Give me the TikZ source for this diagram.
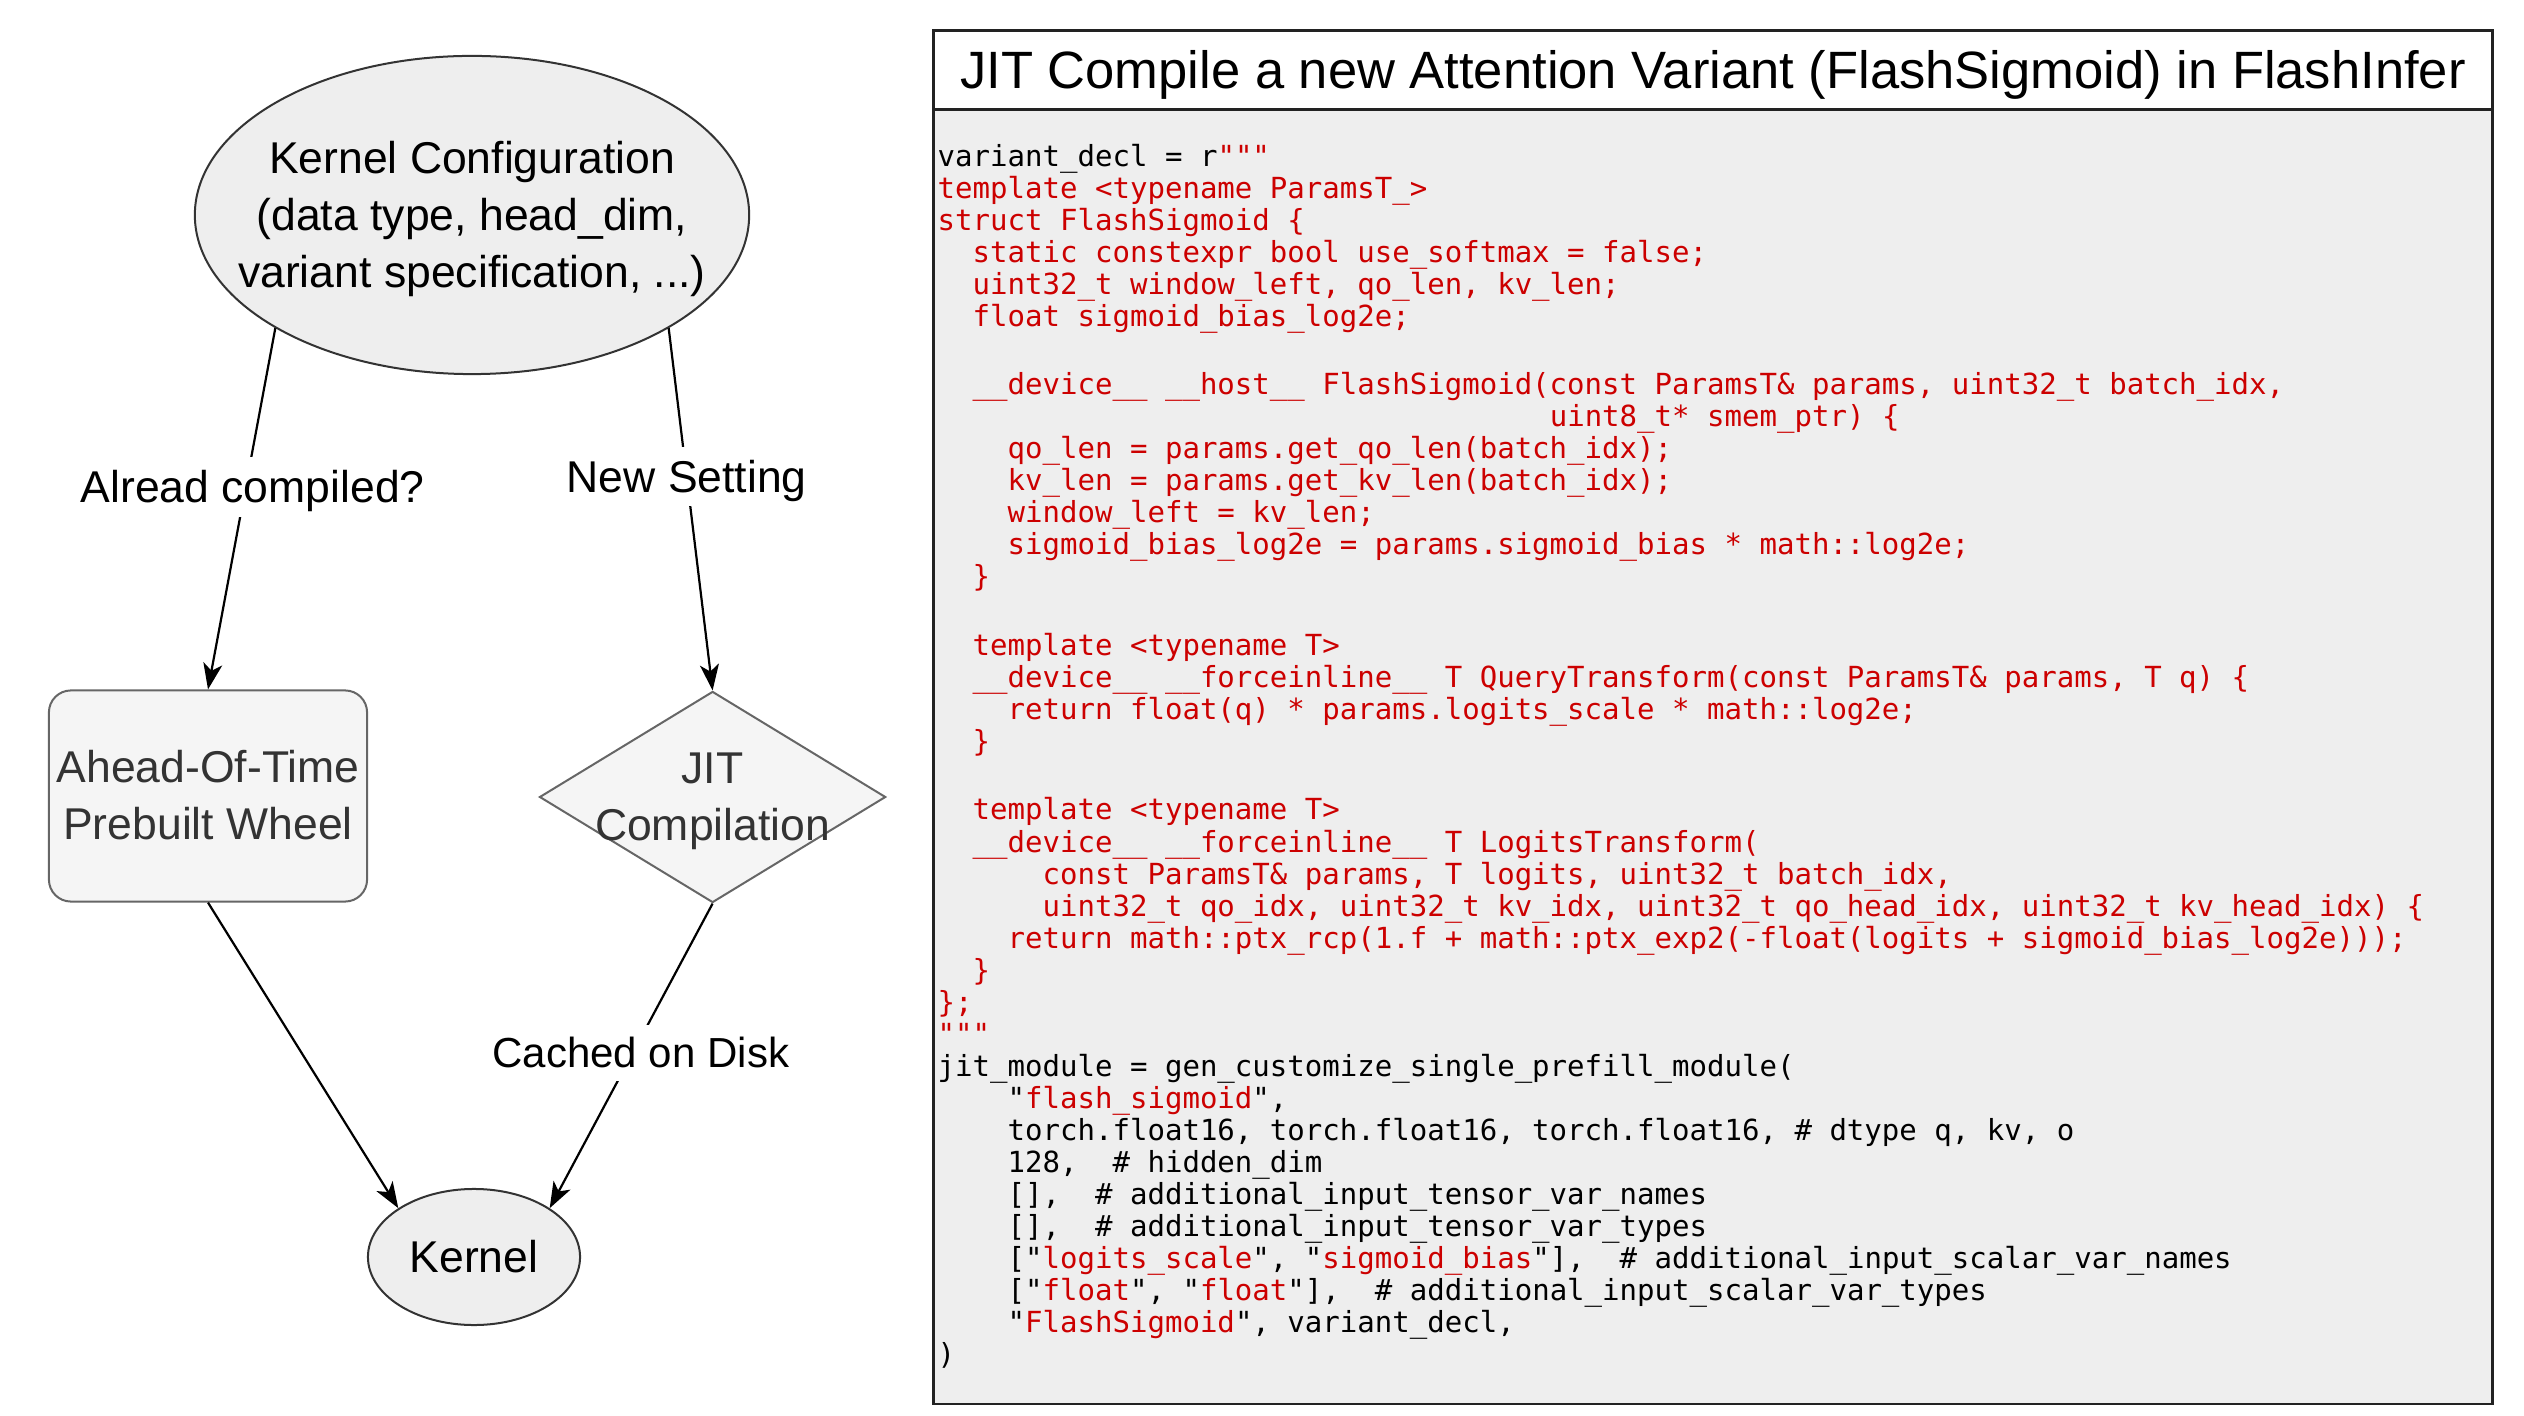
\documentclass[tikz,border=0pt]{standalone}
\usepackage{fontspec}
\setmainfont{Liberation Sans}
\setmonofont{DejaVu Sans Mono}
\usepackage{tikz}
\usetikzlibrary{shapes.geometric, arrows.meta, positioning}

\definecolor{cfgfill}{HTML}{EEEEEE}
\definecolor{cfgline}{HTML}{333333}
\definecolor{wheelfill}{HTML}{F5F5F5}
\definecolor{wheelline}{HTML}{666666}
\definecolor{wheeltext}{HTML}{333333}
\definecolor{codered}{HTML}{CC0000}
\definecolor{panelfill}{HTML}{EEEEEE}
\definecolor{panelline}{HTML}{222222}

\newcommand{\lstrut}{\rule[-0.2535em]{0pt}{1.2em}}
\newcommand{\rd}[1]{\textcolor{codered}{#1}}
\newcommand{\ind}[1]{\hspace*{#1\fontcharwd\font`\x\relax}}
\newcommand{\codefont}{\fontsize{0.2903cm}{0.32cm}\selectfont\ttfamily}
\newcommand{\lblfont}{\fontsize{0.445cm}{0.534cm}\selectfont}
\newcommand{\smalllbl}{\fontsize{0.42cm}{0.504cm}\selectfont}
\newcommand{\titlefont}{\fontsize{0.525cm}{0.63cm}\selectfont}

\tikzset{
    cfgnode/.style={
        ellipse,
        draw=cfgline,
        line width=0.02cm,
        fill=cfgfill,
        minimum width=5.54cm,
        minimum height=3.18cm,
        inner sep=0pt
    },
    wheel/.style={
        rectangle,
        rounded corners=0.22cm,
        draw=wheelline,
        line width=0.02cm,
        fill=wheelfill,
        text=wheeltext,
        minimum width=3.18cm,
        minimum height=2.11cm,
        inner sep=0pt,
        align=center,
        font=\lblfont
    },
    jitbox/.style={
        diamond,
        draw=wheelline,
        line width=0.02cm,
        fill=wheelfill,
        minimum width=3.46cm,
        minimum height=2.11cm,
        inner sep=0pt
    },
    kernelnode/.style={
        ellipse,
        draw=cfgline,
        line width=0.02cm,
        fill=cfgfill,
        minimum width=2.12cm,
        minimum height=1.36cm,
        inner sep=0pt,
        font=\lblfont
    },
    shapetext/.style={
        inner sep=0pt,
        align=center,
        font=\lblfont
    },
    link/.style={
        draw=black,
        line width=0.022cm,
        -{Stealth[length=0.26cm, width=0.19cm, inset=0.07cm]}
    },
    linklabel/.style={
        fill=white,
        inner sep=0.03cm,
        font=\lblfont
    },
    panelhead/.style={
        rectangle,
        draw=panelline,
        line width=0.025cm,
        fill=white,
        minimum width=15.58cm,
        minimum height=0.788cm,
        outer sep=0pt
    },
    panelbody/.style={
        rectangle,
        draw=panelline,
        line width=0.025cm,
        fill=panelfill,
        minimum width=15.58cm,
        minimum height=12.94cm,
        outer sep=0pt
    },
    codeline/.style={
        anchor=base west,
        inner sep=0pt,
        font=\codefont
    },
    redline/.style={
        codeline,
        text=codered
    }
}

\begin{document}
\begin{tikzpicture}[x=0.01cm, y=-0.01cm]
\useasboundingbox (0,0) rectangle (2524,1416);

% dispatch flow
\node[cfgnode] (cfg) at (472,215) {};
\node[shapetext] (cfgtxt) at (cfg.center) {\lstrut Kernel Configuration\\\lstrut (data type, head\_dim,\\\lstrut variant specification, ...)};

\node[wheel] (aot) at (208,796) {\lstrut Ahead-Of-Time\\\lstrut Prebuilt Wheel};
\node[jitbox] (jit) at (712.6,797) {};
\node[shapetext, text=wheeltext] (jittxt) at (jit.center) {\lstrut JIT\\\lstrut Compilation};

\node[kernelnode] (kern) at (474,1257) {\lstrut Kernel};

\draw[link] (cfg.south west) -- node[linklabel, pos=0.44, xshift=0.07cm] (lblaot) {\lstrut Alread compiled?} (aot.north);
\draw[link] (cfg.south east) -- node[linklabel, pos=0.41] (lbljit) {\lstrut New Setting} (jit.north);
\draw[link] (aot.south) -- (kern.north west);
\draw[link] (jit.south) -- node[linklabel, pos=0.49, xshift=0.08cm, font=\smalllbl] (lblcache) {\lstrut Cached on Disk} (kern.north east);

% code panel
\node[panelhead] (head) at (1713,69.9) {};
\node[panelbody, anchor=north] (body) at (head.south) {};
\node[font=\titlefont, inner sep=0pt] (title) at (head.center) {\lstrut JIT Compile a new Attention Variant (FlashSigmoid) in FlashInfer};

\node[codeline] (c1) at (937,166.5) {variant\_decl = r\rd{"""}};
\node[redline] (c2) at (937,198.5) {template <typename ParamsT\_>};
\node[redline] (c3) at (937,230.5) {struct FlashSigmoid \{};
\node[redline] (c4) at (937,262.5) {\ind{2}static constexpr bool use\_softmax = false;};
\node[redline] (c5) at (937,294.5) {\ind{2}uint32\_t window\_left, qo\_len, kv\_len;};
\node[redline] (c6) at (937,326.5) {\ind{2}float sigmoid\_bias\_log2e;};
\node[redline] (c8) at (937,395) {\ind{2}\_\_device\_\_ \_\_host\_\_ FlashSigmoid(const ParamsT\& params, uint32\_t batch\_idx,};
\node[redline] (c9) at (937,427) {\ind{35}uint8\_t* smem\_ptr) \{};
\node[redline] (c10) at (937,459) {\ind{4}qo\_len = params.get\_qo\_len(batch\_idx);};
\node[redline] (c11) at (937,491) {\ind{4}kv\_len = params.get\_kv\_len(batch\_idx);};
\node[redline] (c12) at (937,523) {\ind{4}window\_left = kv\_len;};
\node[redline] (c13) at (937,555) {\ind{4}sigmoid\_bias\_log2e = params.sigmoid\_bias * math::log2e;};
\node[redline] (c14) at (937,587) {\ind{2}\}};
\node[redline] (c16) at (937,655.5) {\ind{2}template <typename T>};
\node[redline] (c17) at (937,687.5) {\ind{2}\_\_device\_\_ \_\_forceinline\_\_ T QueryTransform(const ParamsT\& params, T q) \{};
\node[redline] (c18) at (937,719.5) {\ind{4}return float(q) * params.logits\_scale * math::log2e;};
\node[redline] (c19) at (937,751.5) {\ind{2}\}};
\node[redline] (c21) at (937,820) {\ind{2}template <typename T>};
\node[redline] (c22) at (937,852) {\ind{2}\_\_device\_\_ \_\_forceinline\_\_ T LogitsTransform(};
\node[redline] (c23) at (937,884) {\ind{6}const ParamsT\& params, T logits, uint32\_t batch\_idx,};
\node[redline] (c24) at (937,916) {\ind{6}uint32\_t qo\_idx, uint32\_t kv\_idx, uint32\_t qo\_head\_idx, uint32\_t kv\_head\_idx) \{};
\node[redline] (c25) at (937,948) {\ind{4}return math::ptx\_rcp(1.f + math::ptx\_exp2(-float(logits + sigmoid\_bias\_log2e)));};
\node[redline] (c26) at (937,980) {\ind{2}\}};
\node[redline] (c27) at (937,1012) {\};};
\node[redline] (c28) at (937,1044) {"""};
\node[codeline] (c29) at (937,1076) {jit\_module = gen\_customize\_single\_prefill\_module(};
\node[codeline] (c30) at (937,1108) {\ind{4}"\rd{flash\_sigmoid}",};
\node[codeline] (c31) at (937,1140) {\ind{4}torch.float16, torch.float16, torch.float16, \# dtype q, kv, o};
\node[codeline] (c32) at (937,1172) {\ind{4}128,\ \ \# hidden\_dim};
\node[codeline] (c33) at (937,1204) {\ind{4}[],\ \ \# additional\_input\_tensor\_var\_names};
\node[codeline] (c34) at (937,1236) {\ind{4}[],\ \ \# additional\_input\_tensor\_var\_types};
\node[codeline] (c35) at (937,1268) {\ind{4}["\rd{logits\_scale}", "\rd{sigmoid\_bias}"],\ \ \# additional\_input\_scalar\_var\_names};
\node[codeline] (c36) at (937,1300) {\ind{4}["\rd{float}", "\rd{float}"],\ \ \# additional\_input\_scalar\_var\_types};
\node[codeline] (c37) at (937,1332) {\ind{4}"\rd{FlashSigmoid}", variant\_decl,};
\node[codeline] (c38) at (937,1364) {)};

\end{tikzpicture}
\end{document}
